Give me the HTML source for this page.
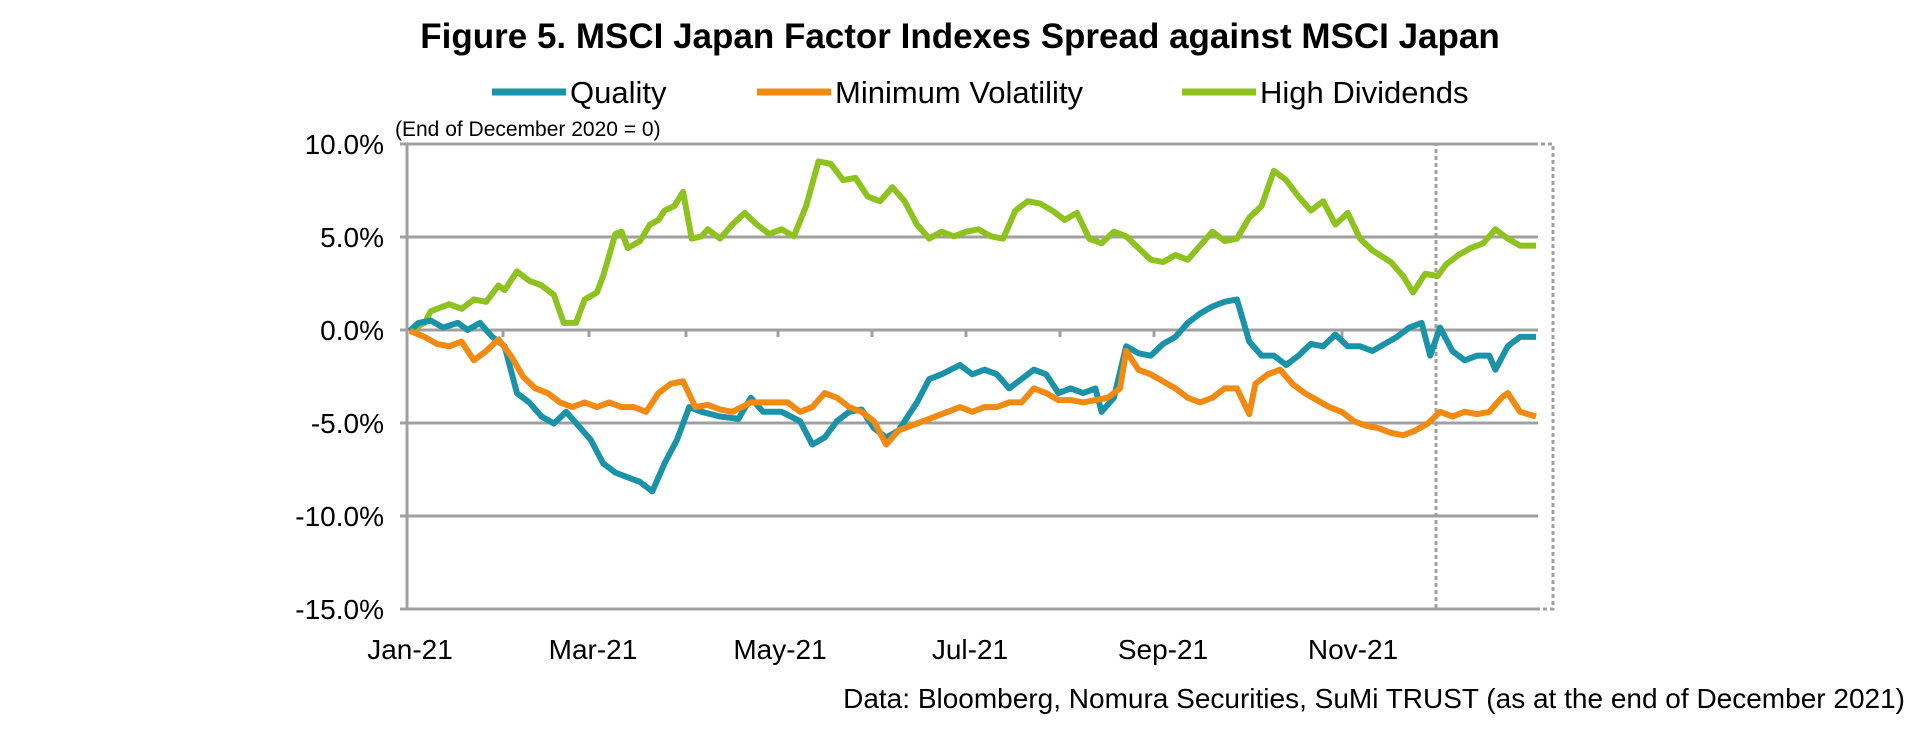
<!DOCTYPE html>
<html><head><meta charset="utf-8"><style>
body{margin:0;background:#fff;}
svg text{font-family:"Liberation Sans",Arial,sans-serif;fill:#000;}
</style></head><body>
<svg width="1920" height="730" viewBox="0 0 1920 730" xmlns="http://www.w3.org/2000/svg">
<text x="960" y="48" font-size="35" font-weight="bold" text-anchor="middle">Figure 5. MSCI Japan Factor Indexes Spread against MSCI Japan</text>
<line x1="492" y1="92" x2="566" y2="92" stroke="#1a92a8" stroke-width="7"/>
<text x="570" y="103" font-size="31">Quality</text>
<line x1="757" y1="92" x2="831" y2="92" stroke="#f28a12" stroke-width="7"/>
<text x="835" y="103" font-size="31">Minimum Volatility</text>
<line x1="1182" y1="92" x2="1256" y2="92" stroke="#8dc21f" stroke-width="7"/>
<text x="1260" y="103" font-size="31">High Dividends</text>
<text x="395" y="136" font-size="21">(End of December 2020 = 0)</text>
<g stroke="#a0a0a0" stroke-width="3">
<line x1="400" y1="144" x2="1538" y2="144"/>
<line x1="400" y1="237" x2="1538" y2="237"/>
<line x1="400" y1="330" x2="1538" y2="330"/>
<line x1="400" y1="423" x2="1538" y2="423"/>
<line x1="400" y1="516" x2="1538" y2="516"/>
<line x1="400" y1="609" x2="1538" y2="609"/>
<line x1="407" y1="144" x2="407" y2="609"/>
<line x1="503" y1="330" x2="503" y2="337"/><line x1="589" y1="330" x2="589" y2="337"/><line x1="686" y1="330" x2="686" y2="337"/><line x1="778" y1="330" x2="778" y2="337"/><line x1="872" y1="330" x2="872" y2="337"/><line x1="966" y1="330" x2="966" y2="337"/><line x1="1060" y1="330" x2="1060" y2="337"/><line x1="1154" y1="330" x2="1154" y2="337"/><line x1="1248" y1="330" x2="1248" y2="337"/><line x1="1342" y1="330" x2="1342" y2="337"/><line x1="1436" y1="330" x2="1436" y2="337"/>
</g>
<rect x="1436" y="144" width="117" height="465" fill="none" stroke="#a0a0a0" stroke-width="3" stroke-dasharray="4,3"/>
<g font-size="28" text-anchor="end">
<text x="384" y="154">10.0%</text><text x="384" y="247">5.0%</text><text x="384" y="340">0.0%</text><text x="384" y="433">-5.0%</text><text x="384" y="526">-10.0%</text><text x="384" y="619">-15.0%</text>
</g>
<g font-size="28" text-anchor="middle">
<text x="410" y="659">Jan-21</text><text x="593" y="659">Mar-21</text><text x="780" y="659">May-21</text><text x="970" y="659">Jul-21</text><text x="1163" y="659">Sep-21</text><text x="1353" y="659">Nov-21</text>
</g>
<text x="1905" y="708" font-size="28" text-anchor="end">Data: Bloomberg, Nomura Securities, SuMi TRUST (as at the end of December 2021)</text>
<g transform="scale(1.2308,0.46795)" fill="none" stroke-linejoin="round">
<polyline vector-effect="non-scaling-stroke" stroke="#8dc21f" stroke-width="6" points="333,707 345,690 350,665 365,650 375,660 385,640 395,645 405,610 410,620 420,580 430,600 440,610 450,630 458,690 468,690 475,640 485,625 490,590 500,500 505,495 510,530 520,515 528,480 535,470 540,450 548,440 555,410 562,510 570,505 575,490 585,510 595,480 605,455 615,480 625,500 635,490 645,505 655,440 665,345 675,350 685,385 695,380 705,420 715,430 725,400 735,430 745,480 755,510 765,495 775,505 785,495 795,490 805,505 815,510 825,450 835,430 845,435 855,450 865,470 875,455 885,510 895,520 905,495 915,505 925,530 935,555 945,560 955,545 965,555 975,525 985,495 995,515 1005,510 1015,465 1025,440 1035,365 1045,385 1055,420 1065,450 1075,430 1085,480 1095,455 1105,510 1115,535 1130,560 1140,590 1148,625 1158,585 1168,590 1175,565 1185,545 1195,530 1205,520 1215,490 1225,510 1235,525 1248,525"/>
<polyline vector-effect="non-scaling-stroke" stroke="#1a92a8" stroke-width="6" points="333,707 340,690 350,685 360,700 372,690 380,705 390,690 400,720 410,740 420,840 430,860 440,890 450,905 460,880 470,910 480,940 490,990 500,1010 510,1020 520,1030 530,1050 540,990 550,940 560,870 570,880 585,890 600,895 610,850 620,880 635,880 650,900 660,950 670,935 680,900 690,880 700,875 710,915 720,935 730,920 745,860 755,810 765,800 780,780 790,800 800,790 810,800 820,830 830,810 840,790 850,800 860,840 870,830 880,840 890,830 895,880 905,850 915,740 925,755 935,760 945,735 955,720 965,690 975,670 985,655 995,645 1005,640 1015,730 1025,760 1035,760 1045,780 1055,760 1065,735 1075,740 1085,715 1095,740 1105,740 1115,750 1125,735 1135,720 1145,700 1155,690 1162,760 1170,700 1180,750 1190,770 1200,760 1210,760 1215,790 1225,740 1235,720 1248,720"/>
<polyline vector-effect="non-scaling-stroke" stroke="#f28a12" stroke-width="6" points="333,707 345,720 355,735 365,740 375,730 385,770 395,750 405,725 415,760 425,805 435,830 445,840 455,860 465,870 475,860 485,870 495,860 505,870 515,870 525,880 535,840 545,820 555,815 565,870 575,865 585,875 595,880 610,860 625,860 640,860 650,880 660,870 670,840 680,850 690,870 700,880 710,900 720,950 730,920 740,910 750,900 760,890 770,880 780,870 790,880 800,870 810,870 820,860 830,860 840,830 850,840 860,855 870,855 880,860 890,855 900,850 910,830 915,750 925,790 935,800 945,815 955,830 965,850 975,860 985,850 995,830 1005,830 1015,885 1020,820 1030,800 1040,790 1050,820 1060,840 1070,855 1080,870 1090,880 1100,900 1110,910 1120,915 1130,925 1140,930 1150,920 1160,905 1170,880 1180,890 1190,880 1200,885 1210,880 1220,850 1225,840 1235,880 1248,890"/>
</g>
</svg>
</body></html>
